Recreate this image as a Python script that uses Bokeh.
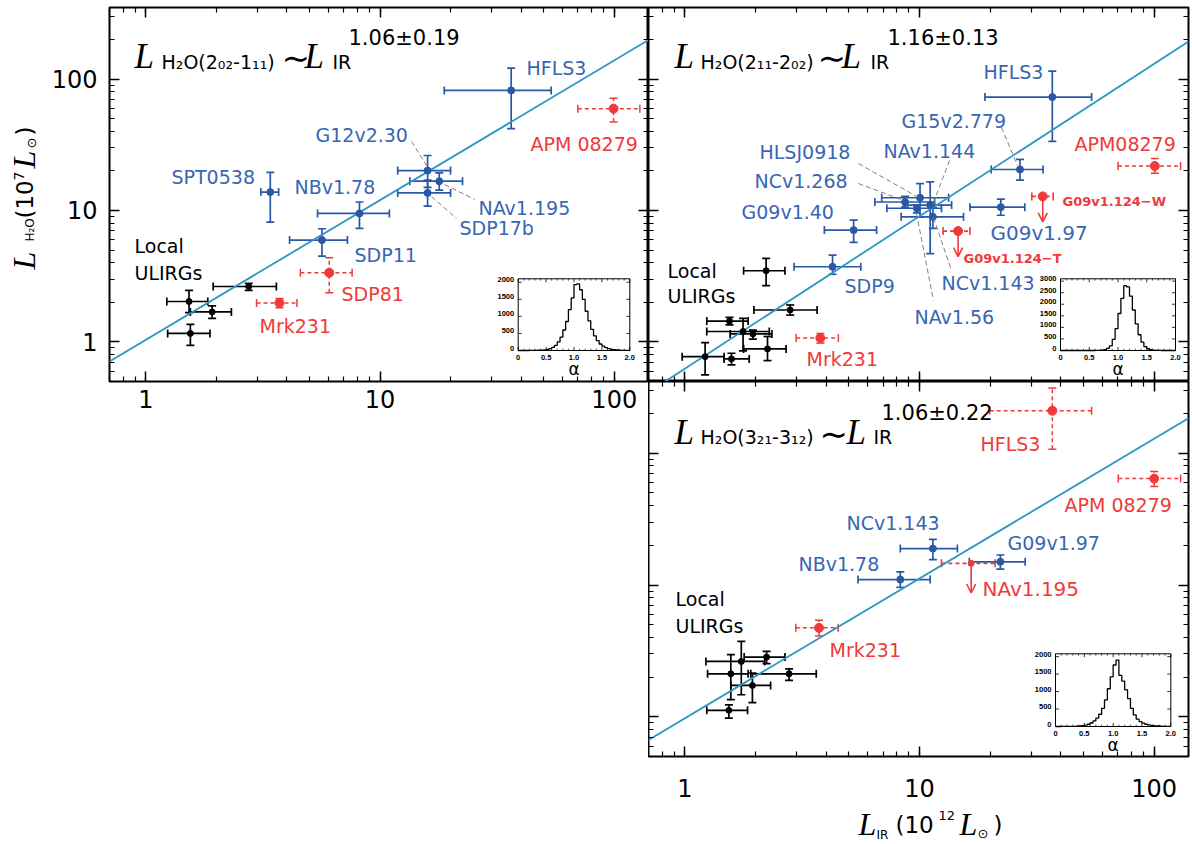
import numpy as np
from bokeh.plotting import figure
from bokeh.models import (ColumnDataSource, Whisker, TeeHead, Arrow, OpenHead, Label,
                          LogAxis, LogTicker, NumeralTickFormatter, Range1d, LinearScale)
from bokeh.layouts import row, column
from bokeh.embed import file_html
from bokeh.resources import INLINE
from bokeh.core.properties import value

# ======================= DATA =======================
# ---- top-left panel: H2O(2_02-1_11) ----
tl_loc_x = [1.53, 1.92, 2.75, 1.55]
tl_loc_y = [2.03, 1.69, 2.64, 1.16]
tl_loc_xlo = [1.23, 1.55, 1.94, 1.24]
tl_loc_xhi = [1.84, 2.32, 3.61, 1.88]
tl_loc_ylo = [1.67, 1.51, 2.47, 0.94]
tl_loc_yhi = [2.47, 1.88, 2.79, 1.36]

tl_hz_name = ["SPT0538", "SDP11", "NBv1.78", "G12v2.30", "NAv1.195", "SDP17b", "HFLS3"]
tl_hz_x = [3.40, 5.65, 8.17, 15.96, 17.9, 15.96, 36.3]
tl_hz_y = [13.8, 5.95, 9.49, 20.1, 16.7, 13.6, 81.9]
tl_hz_xlo = [3.10, 4.11, 5.41, 11.9, 13.4, 11.9, 18.8]
tl_hz_xhi = [3.69, 7.26, 10.96, 20.0, 22.5, 20.0, 53.8]
tl_hz_ylo = [8.15, 4.50, 7.30, 15.0, 14.3, 10.8, 42.0]
tl_hz_yhi = [19.5, 7.26, 11.6, 26.2, 19.3, 17.0, 121.0]

tl_red_name = ["Mrk231", "SDP81", "APM 08279"]
tl_red_x = [3.72, 6.07, 99.3]
tl_red_y = [1.98, 3.36, 59.5]
tl_red_xlo = [2.97, 4.57, 69.9]
tl_red_xhi = [4.42, 7.60, 128.6]
tl_red_ylo = [1.82, 2.37, 47.2]
tl_red_yhi = [2.14, 4.37, 71.3]

tl_fit_x = [0.7, 140.0]
tl_fit_y = [0.71, 198.0]

# ---- top-right panel: H2O(2_11-2_02) ----
tr_loc_x = [2.22, 2.81, 1.55, 1.77, 1.95, 2.25, 1.22, 1.58]
tr_loc_y = [3.48, 1.75, 1.44, 1.20, 1.15, 0.885, 0.773, 0.743]
tr_loc_xlo = [1.78, 1.97, 1.24, 1.24, 1.56, 1.78, 0.974, 1.47]
tr_loc_xhi = [2.67, 3.66, 1.86, 2.29, 2.35, 2.70, 1.47, 1.88]
tr_loc_ylo = [2.68, 1.60, 1.35, 0.855, 1.05, 0.721, 0.562, 0.669]
tr_loc_yhi = [4.32, 1.91, 1.54, 1.51, 1.23, 1.10, 0.988, 0.82]

tr_hz_name = ["SDP9", "G09v1.40", "NCv1.268", "HLSJ0918", "NAv1.56", "NAv1.144",
              "NCv1.143", "G09v1.97", "G15v2.779", "HFLS3"]
tr_hz_x = [4.26, 5.24, 8.68, 10.05, 9.74, 11.1, 11.4, 22.2, 26.8, 36.8]
tr_hz_y = [3.73, 7.09, 11.6, 12.5, 10.4, 11.0, 8.94, 10.6, 20.5, 72.9]
tr_hz_xlo = [2.92, 3.93, 6.45, 6.9, 7.26, 8.55, 8.35, 16.4, 20.2, 19.0]
tr_hz_xhi = [5.62, 6.56, 11.6, 13.3, 12.4, 13.7, 15.4, 28.1, 33.6, 54.1]
tr_hz_ylo = [3.27, 5.71, 10.6, 8.9, 9.6, 4.7, 7.3, 9.2, 17.0, 33.6]
tr_hz_yhi = [4.57, 8.44, 12.8, 16.0, 11.0, 16.5, 10.5, 12.2, 24.5, 115.0]

tr_red_name = ["Mrk231", "APM08279"]
tr_red_x = [3.78, 100.6]
tr_red_y = [1.07, 21.8]
tr_red_xlo = [2.98, 70.1]
tr_red_xhi = [4.51, 129.5]
tr_red_ylo = [0.98, 19.2]
tr_red_yhi = [1.16, 24.9]

tr_ul_name = ["G09v1.124\u2212W", "G09v1.124\u2212T"]
tr_ul_x = [33.5, 14.6]
tr_ul_y = [12.8, 6.97]
tr_ul_xlo = [30.1, 12.6]
tr_ul_xhi = [37.1, 16.4]
tr_ul_yend = [8.2, 4.45]

tr_fit_x = [0.8, 140.0]
tr_fit_y = [0.483, 193.0]

# ---- bottom panel: H2O(3_21-3_12) ----
b_loc_x = [1.54, 1.57, 1.74, 2.23, 2.78, 1.94]
b_loc_y = [1.12, 2.12, 2.63, 2.84, 2.12, 1.73]
b_loc_xlo = [1.24, 1.25, 1.23, 1.79, 1.91, 1.57]
b_loc_xhi = [1.85, 1.86, 2.19, 2.67, 3.63, 2.32]
b_loc_ylo = [0.977, 1.35, 1.47, 2.53, 1.89, 1.28]
b_loc_yhi = [1.23, 2.96, 3.74, 3.14, 2.31, 2.15]

b_hz_name = ["NBv1.78", "NCv1.143", "G09v1.97"]
b_hz_x = [8.28, 11.4, 22.1]
b_hz_y = [11.0, 18.9, 15.0]
b_hz_xlo = [5.47, 8.28, 16.3]
b_hz_xhi = [11.1, 14.5, 28.2]
b_hz_ylo = [9.6, 15.6, 13.2]
b_hz_yhi = [12.6, 22.2, 16.9]

b_red_name = ["Mrk231", "HFLS3", "APM 08279"]
b_red_x = [3.73, 36.8, 100.0]
b_red_y = [4.73, 210.0, 64.2]
b_red_xlo = [2.97, 19.9, 70.3]
b_red_xhi = [4.50, 54.1, 129.5]
b_red_ylo = [4.1, 107.0, 55.9]
b_red_yhi = [5.4, 312.0, 72.7]

b_ul_name = ["NAv1.195"]
b_ul_x = [16.6]
b_ul_y = [14.6]
b_ul_xlo = [12.4]
b_ul_xhi = [21.0]
b_ul_yend = [8.7]

b_fit_x = [0.7, 140.0]
b_fit_y = [0.668, 184.0]

# ---- inset histograms of the slope alpha (bins of 0.05 from 0 to 2) ----
hist_edges = [round(0.05 * i, 2) for i in range(41)]
hist_tl = [0, 0, 0, 0, 1, 2, 4, 7, 11, 18,
           30, 55, 90, 150, 250, 390, 600, 850, 1200, 1540,
           1930, 1950, 1780, 1500, 1150, 870, 620, 430, 290, 190,
           130, 85, 55, 35, 22, 14, 9, 6, 4, 2]
hist_tr = [0, 0, 0, 0, 0, 0, 0, 0, 0, 0,
           0, 1, 2, 6, 15, 40, 90, 200, 480, 950,
           1600, 2250, 2800, 2750, 2350, 1750, 1150, 680, 360, 170,
           75, 32, 14, 6, 3, 1, 0, 0, 0, 0]
hist_b = [0, 0, 1, 1, 2, 3, 5, 8, 15, 25,
          40, 65, 100, 160, 240, 350, 520, 760, 1080, 1420,
          1760, 1900, 1460, 1300, 1050, 800, 520, 330, 210, 140,
          95, 65, 45, 30, 20, 14, 9, 6, 4, 2]
hist_xticks = [0.0, 0.5, 1.0, 1.5, 2.0]
hist_xlabels = ["0", "0.5", "1.0", "1.5", "2.0"]
hist_yticks_2k = [0, 500, 1000, 1500, 2000]
hist_yticks_3k = [0, 500, 1000, 1500, 2000, 2500, 3000]

# ======================= STYLE =======================
BLUE = "#2a58a5"
BLUE_T = "#3766b2"
RED = "#f03a3a"
FIT = "#2b96c6"
GRAY = "#808080"
SANS = "DejaVu Sans"
SERIF = "Liberation Serif"

XR = (0.7, 140.0)
YR = (0.5, 350.0)
LX0, LX1 = np.log10(XR[0]), np.log10(XR[1])
LY0, LY1 = np.log10(YR[0]), np.log10(YR[1])

# frames in page pixels: left, top, width, height
FR_TL = (108, 7, 539, 374)
FR_TR = (647, 7, 540, 374)
FR_B = (647, 381, 540, 375)


def pd(X, Y, fr):
    """page pixel -> data coordinates of a panel (for annotation placement)"""
    l, t, w, h = fr
    return (float(10 ** (LX0 + (X - l) / w * (LX1 - LX0))),
            float(10 ** (LY0 + (t + h - Y) / h * (LY1 - LY0))))


def style_axis(ax, show, standoff):
    ax.ticker = LogTicker(num_minor_ticks=10)
    ax.axis_line_color = None
    ax.major_tick_in = 10
    ax.major_tick_out = 0
    ax.minor_tick_in = 5
    ax.minor_tick_out = 0
    ax.major_tick_line_color = "black"
    ax.minor_tick_line_color = "black"
    ax.major_tick_line_width = 1.5
    ax.minor_tick_line_width = 1.2
    if show:
        ax.formatter = NumeralTickFormatter(format="0")
        ax.major_label_text_font = SANS
        ax.major_label_text_font_size = "24px"
        ax.major_label_text_color = "black"
        ax.major_label_standoff = standoff
    else:
        ax.major_label_text_font_size = "1px"
        ax.major_label_text_color = None
        ax.major_label_standoff = 0


def make_panel(fw, fh, bl, bt, bb, br, show_x, show_y, xstand):
    p = figure(x_axis_type="log", y_axis_type="log",
               x_range=Range1d(*XR), y_range=Range1d(*YR),
               frame_width=fw, frame_height=fh,
               min_border_left=bl, min_border_right=br,
               min_border_top=bt, min_border_bottom=bb,
               toolbar_location=None, output_backend="svg")
    p.grid.visible = False
    p.outline_line_color = "black"
    p.outline_line_width = 2
    p.background_fill_color = "white"
    p.border_fill_color = "white"
    xa = LogAxis()
    yr = LogAxis()
    p.add_layout(xa, "above")
    p.add_layout(yr, "right")
    style_axis(p.below[0], show_x, xstand)
    style_axis(p.left[0], show_y, 12)
    style_axis(xa, False, 0)
    style_axis(yr, False, 0)
    return p


def text_fig(x0, y0, w, h):
    """plain canvas whose data units are page pixels (y negated), for axis titles"""
    f = figure(x_range=Range1d(x0, x0 + w), y_range=Range1d(-(y0 + h), -y0),
               frame_width=w, frame_height=h, min_border=0,
               x_axis_location=None, y_axis_location=None,
               toolbar_location=None, output_backend="svg")
    f.grid.visible = False
    f.outline_line_color = None
    f.border_fill_color = "white"
    return f


def ftext(f, X, Y, text, size, font=SANS, style="normal", angle=0.0):
    f.text(x=[X], y=[-Y], text=[text], text_font=value(font),
           text_font_size=value(f"{size}px"), text_font_style=value(style),
           angle=angle, text_align=value("left"), text_baseline=value("middle"),
           text_color="black")


def errgroup(p, x, y, xlo, xhi, ylo, yhi, color, size, dash="solid", lw=1.7):
    src = ColumnDataSource(dict(x=x, y=y, xlo=xlo, xhi=xhi, ylo=ylo, yhi=yhi))
    def hd():
        return TeeHead(size=8, line_color=color, line_width=lw)
    p.add_layout(Whisker(source=src, base="y", lower="xlo", upper="xhi", dimension="width",
                         line_color=color, line_width=lw, line_dash=dash,
                         upper_head=hd(), lower_head=hd()))
    p.add_layout(Whisker(source=src, base="x", lower="ylo", upper="yhi", dimension="height",
                         line_color=color, line_width=lw, line_dash=dash,
                         upper_head=hd(), lower_head=hd()))
    p.scatter("x", "y", source=src, size=size, fill_color=color, line_color=color)


def ulgroup(p, x, y, xlo, xhi, yend, color, size, lw=1.6):
    src = ColumnDataSource(dict(x=x, y=y, xlo=xlo, xhi=xhi, ye=yend))
    p.add_layout(Whisker(source=src, base="y", lower="xlo", upper="xhi", dimension="width",
                         line_color=color, line_width=lw, line_dash="4 3",
                         upper_head=TeeHead(size=8, line_color=color, line_width=lw),
                         lower_head=TeeHead(size=8, line_color=color, line_width=lw)))
    p.add_layout(Arrow(source=src, x_start="x", y_start="y", x_end="x", y_end="ye",
                       end=OpenHead(size=9, line_color=color, line_width=lw),
                       line_color=color, line_width=lw))
    p.scatter("x", "y", source=src, size=size, fill_color=color, line_color=color)


def lab(p, fr, X, Y, text, size, color="black", font=SANS, style="normal", align="left"):
    x, y = pd(X, Y, fr)
    p.add_layout(Label(x=x, y=y, text=text, text_font=font, text_font_size=f"{size}px",
                       text_font_style=style, text_color=color, text_align=align,
                       text_baseline="middle"))


def leader(p, fr, X0, Y0, X1, Y1):
    x0, y0 = pd(X0, Y0, fr)
    x1, y1 = pd(X1, Y1, fr)
    p.segment(x0=[x0], y0=[y0], x1=[x1], y1=[y1], line_color=GRAY, line_width=1,
              line_dash="5 3")


def title(p, fr, Xs, Ys, sub_text, sup_text):
    XL, XH, XT, XL2, XIR, XS = Xs
    YL, YH, YT, YS = Ys
    lab(p, fr, XL, YL, "L", 35, font=SERIF, style="italic")
    lab(p, fr, XH, YH, sub_text, 19)
    lab(p, fr, XT, YT, "\u223c", 34)
    lab(p, fr, XL2, YL, "L", 35, font=SERIF, style="italic")
    lab(p, fr, XIR, YH, "IR", 19)
    lab(p, fr, XS, YS, sup_text, 21)


def inset(p, fr, box, ymax, counts, yticks):
    l, t, w, h = fr
    bx0, by0, bx1, by1 = box
    sx = 2.0 / (bx1 - bx0)
    sy = ymax / (by1 - by0)
    p.extra_x_ranges = {"h": Range1d((l - bx0) * sx, (l + w - bx0) * sx)}
    p.extra_y_ranges = {"h": Range1d((by1 - (t + h)) * sy, (by1 - t) * sy)}
    p.extra_x_scales = {"h": LinearScale()}
    p.extra_y_scales = {"h": LinearScale()}
    kw = dict(x_range_name="h", y_range_name="h")
    p.quad(left=[0.0], right=[2.0], bottom=[0.0], top=[ymax], fill_color="white",
           line_color="black", line_width=1, **kw)
    ys = list(counts) + [counts[-1]]
    p.step(x=hist_edges, y=ys, mode="after", line_color="black", line_width=1.3, **kw)
    mt = 3.5
    xt = hist_xticks
    p.segment(x0=xt, y0=[0] * len(xt), x1=xt, y1=[mt * sy] * len(xt),
              line_color="black", line_width=0.8, **kw)
    p.segment(x0=xt, y0=[ymax] * len(xt), x1=xt, y1=[ymax - mt * sy] * len(xt),
              line_color="black", line_width=0.8, **kw)
    mn = [v / 10 for v in range(1, 20) if v % 5]
    p.segment(x0=mn, y0=[0] * len(mn), x1=mn, y1=[1.8 * sy] * len(mn),
              line_color="black", line_width=0.7, **kw)
    p.segment(x0=mn, y0=[ymax] * len(mn), x1=mn, y1=[ymax - 1.8 * sy] * len(mn),
              line_color="black", line_width=0.7, **kw)
    yt = yticks
    p.segment(x0=[0] * len(yt), y0=yt, x1=[mt * sx] * len(yt), y1=yt,
              line_color="black", line_width=0.8, **kw)
    p.segment(x0=[2.0] * len(yt), y0=yt, x1=[2.0 - mt * sx] * len(yt), y1=yt,
              line_color="black", line_width=0.8, **kw)
    p.text(x=xt, y=[-7 * sy] * len(xt), text=hist_xlabels,
           text_font=value("Liberation Sans"), text_font_size=value("7.5px"),
           text_font_style=value("bold"), text_align=value("center"),
           text_baseline=value("middle"), text_color="black", **kw)
    p.text(x=[-4 * sx] * len(yt), y=[v + 2.5 * sy for v in yt], text=[str(v) for v in yt],
           text_font=value("Liberation Sans"), text_font_size=value("7.5px"),
           text_font_style=value("bold"), text_align=value("right"),
           text_baseline=value("middle"), text_color="black", **kw)
    p.text(x=[1.0], y=[-18 * sy], text=["\u03b1"], text_font=value(SANS),
           text_font_size=value("17px"), text_align=value("center"),
           text_baseline=value("middle"), text_color="black", **kw)


# ======================= PANELS =======================
ylab = text_fig(0, 0, 48, 381)
p1 = make_panel(539, 374, 60, 7, 50, 0, True, True, 8)
p2 = make_panel(540, 374, 0, 7, 0, 3, False, False, 0)
p3 = make_panel(540, 375, 0, 0, 50, 3, True, False, 22)
xlab = text_fig(647, 807, 543, 36)

# ---- top-left ----
inset(p1, FR_TL, (516.7, 278.3, 628.3, 350.0), 2100, hist_tl, hist_yticks_2k)
p1.line(tl_fit_x, tl_fit_y, line_color=FIT, line_width=1.8)
errgroup(p1, tl_loc_x, tl_loc_y, tl_loc_xlo, tl_loc_xhi, tl_loc_ylo, tl_loc_yhi, "black", 6)
errgroup(p1, tl_red_x, tl_red_y, tl_red_xlo, tl_red_xhi, tl_red_ylo, tl_red_yhi, RED, 9,
         dash="4 3", lw=1.5)
errgroup(p1, tl_hz_x, tl_hz_y, tl_hz_xlo, tl_hz_xhi, tl_hz_ylo, tl_hz_yhi, BLUE, 7)
leader(p1, FR_TL, 410, 141, 427, 168)
leader(p1, FR_TL, 443, 184, 473, 199)
leader(p1, FR_TL, 430, 196, 455, 218)
title(p1, FR_TL, (133, 160, 280, 303, 331, 347), (56, 61, 57, 37.5),
      "H\u2082O(2\u2080\u2082-1\u2081\u2081)", "1.06\u00b10.19")
lab(p1, FR_TL, 133, 245, "Local", 19)
lab(p1, FR_TL, 133, 272, "ULIRGs", 19)
tl_label_pos = {"SPT0538": (170, 176), "SDP11": (353, 254), "NBv1.78": (293, 186),
                "G12v2.30": (314, 134), "NAv1.195": (477, 207), "SDP17b": (458, 227),
                "HFLS3": (525, 67)}
for nm in tl_hz_name:
    X, Y = tl_label_pos[nm]
    lab(p1, FR_TL, X, Y, nm, 19, color=BLUE_T)
tl_red_pos = {"Mrk231": (258, 325), "SDP81": (340, 293), "APM 08279": (529, 143)}
for nm in tl_red_name:
    X, Y = tl_red_pos[nm]
    lab(p1, FR_TL, X, Y, nm, 19, color=RED)

# y-axis title (rotated, reading upward)
A = float(np.pi / 2)
ftext(ylab, 23, 262, "L", 32, font=SERIF, style="italic", angle=A)
ftext(ylab, 29, 234, "H\u2082O", 12, angle=A)
ftext(ylab, 24, 211, "(10", 23, angle=A)
ftext(ylab, 18, 173, "7", 14, angle=A)
ftext(ylab, 23, 161, "L", 32, font=SERIF, style="italic", angle=A)
ftext(ylab, 31, 141, "\u2299", 13, angle=A)
ftext(ylab, 24, 128, ")", 23, angle=A)

# ---- top-right ----
inset(p2, FR_TR, (1059.0, 278.3, 1174.0, 350.0), 3100, hist_tr, hist_yticks_3k)
p2.line(tr_fit_x, tr_fit_y, line_color=FIT, line_width=1.8)
errgroup(p2, tr_loc_x, tr_loc_y, tr_loc_xlo, tr_loc_xhi, tr_loc_ylo, tr_loc_yhi, "black", 6)
errgroup(p2, tr_red_x, tr_red_y, tr_red_xlo, tr_red_xhi, tr_red_ylo, tr_red_yhi, RED, 9,
         dash="4 3", lw=1.5)
ulgroup(p2, tr_ul_x, tr_ul_y, tr_ul_xlo, tr_ul_xhi, tr_ul_yend, RED, 9)
errgroup(p2, tr_hz_x, tr_hz_y, tr_hz_xlo, tr_hz_xhi, tr_hz_ylo, tr_hz_yhi, BLUE, 7)
leader(p2, FR_TR, 857, 163, 917, 197)
leader(p2, FR_TR, 857, 183, 902, 200)
leader(p2, FR_TR, 948, 160, 932, 202)
leader(p2, FR_TR, 1000, 127, 1016, 165)
leader(p2, FR_TR, 932, 217, 950, 270)
leader(p2, FR_TR, 915, 213, 932, 300)
title(p2, FR_TR, (673, 699, 816, 840, 869, 886), (56, 61, 57, 37.5),
      "H\u2082O(2\u2081\u2081-2\u2080\u2082)", "1.16\u00b10.13")
lab(p2, FR_TR, 666, 270, "Local", 19)
lab(p2, FR_TR, 666, 295, "ULIRGs", 19)
tr_label_pos = {"SDP9": (843, 285), "G09v1.40": (740, 211), "NCv1.268": (753, 180),
                "HLSJ0918": (758, 151), "NAv1.56": (913, 316), "NAv1.144": (882, 150),
                "NCv1.143": (940, 282), "G09v1.97": (989, 232), "G15v2.779": (900, 120),
                "HFLS3": (982, 71)}
for nm in tr_hz_name:
    X, Y = tr_label_pos[nm]
    lab(p2, FR_TR, X, Y, nm, 20 if nm == "G09v1.97" else 19, color=BLUE_T)
tr_red_pos = {"Mrk231": (805, 358), "APM08279": (1073, 143)}
for nm in tr_red_name:
    X, Y = tr_red_pos[nm]
    lab(p2, FR_TR, X, Y, nm, 19, color=RED)
tr_ul_pos = [(1061, 201), (962, 258)]
for nm, (X, Y) in zip(tr_ul_name, tr_ul_pos):
    lab(p2, FR_TR, X, Y, nm, 13, color=RED, style="bold")

# ---- bottom ----
inset(p3, FR_B, (1054.0, 653.3, 1169.3, 726.0), 2080, hist_b, hist_yticks_2k)
p3.line(b_fit_x, b_fit_y, line_color=FIT, line_width=1.8)
errgroup(p3, b_loc_x, b_loc_y, b_loc_xlo, b_loc_xhi, b_loc_ylo, b_loc_yhi, "black", 6)
errgroup(p3, b_red_x, b_red_y, b_red_xlo, b_red_xhi, b_red_ylo, b_red_yhi, RED, 9,
         dash="4 3", lw=1.5)
ulgroup(p3, b_ul_x, b_ul_y, b_ul_xlo, b_ul_xhi, b_ul_yend, RED, 6)
errgroup(p3, b_hz_x, b_hz_y, b_hz_xlo, b_hz_xhi, b_hz_ylo, b_hz_yhi, BLUE, 7)
title(p3, FR_B, (673, 699, 818, 845, 872, 880), (432, 436, 433, 412.5),
      "H\u2082O(3\u2082\u2081-3\u2081\u2082)", "1.06\u00b10.22")
lab(p3, FR_B, 674, 598, "Local", 19)
lab(p3, FR_B, 674, 625, "ULIRGs", 19)
b_label_pos = {"NBv1.78": (797, 563), "NCv1.143": (845, 522), "G09v1.97": (1006, 542)}
for nm in b_hz_name:
    X, Y = b_label_pos[nm]
    lab(p3, FR_B, X, Y, nm, 19, color=BLUE_T)
b_red_pos = {"Mrk231": (828, 649), "HFLS3": (979, 443), "APM 08279": (1063, 504)}
for nm in b_red_name:
    X, Y = b_red_pos[nm]
    lab(p3, FR_B, X, Y, nm, 19, color=RED)
lab(p3, FR_B, 981, 588, b_ul_name[0], 20, color=RED)

# x-axis title
ftext(xlab, 857, 824, "L", 32, font=SERIF, style="italic")
ftext(xlab, 875, 835, "IR", 12)
ftext(xlab, 894, 825, "(10", 23)
ftext(xlab, 937, 816, "12", 13)
ftext(xlab, 958, 824, "L", 32, font=SERIF, style="italic")
ftext(xlab, 976, 834, "\u2299", 13)
ftext(xlab, 992, 825, ")", 23)

layout = row(ylab, p1, column(p2, p3, xlab))
open("out.html", "w").write(file_html(layout, INLINE))
